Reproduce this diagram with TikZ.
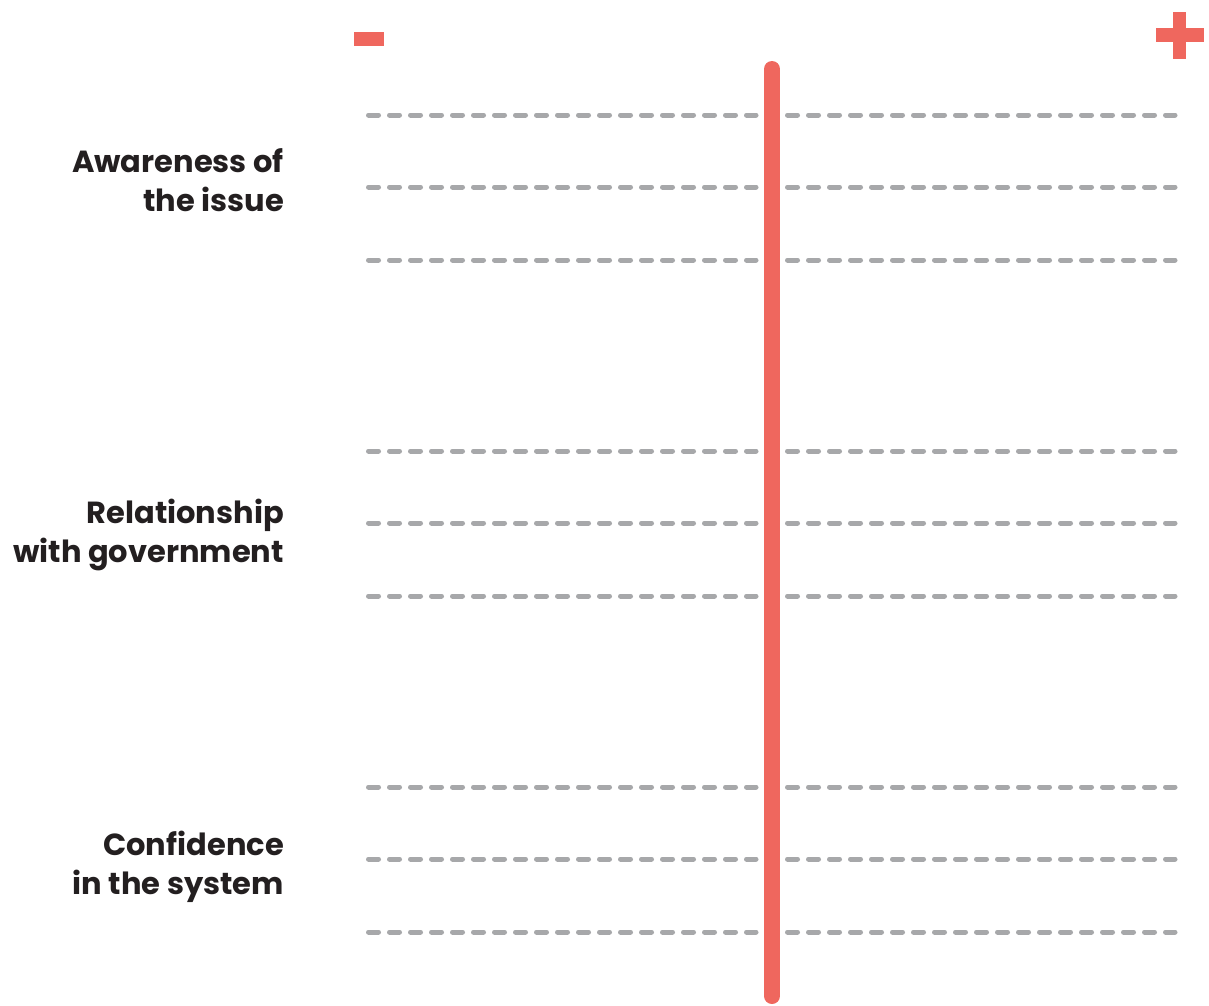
\documentclass[tikz,border=0pt]{standalone}
\usepackage{fontspec}
\setmainfont{Poppins}
\definecolor{accent}{HTML}{EF675E}
\definecolor{dashgray}{HTML}{A7A8AA}
\definecolor{labeltext}{HTML}{231F20}
\begin{document}
\begin{tikzpicture}[x=1pt,y=-1pt,
  guide/.style={draw=dashgray,line width=5pt,line cap=round,dash pattern=on 10pt off 11pt},
  axis/.style={draw=accent,line width=16pt,line cap=round},
  sign/.style={fill=accent},
  label/.style={anchor=base east,align=right,inner sep=0pt,text=labeltext,font=\fontsize{30.5}{39}\selectfont\bfseries}]
\useasboundingbox (0,0) rectangle (1209,1005);
% guide lines
\foreach \yy in {115,187,260,451,523,596,787,859,932}{
  \draw[guide] (368.5,\yy) -- (756,\yy);
  \draw[guide] (787.5,\yy) -- (1175,\yy);
}
% central axis
\coordinate (axtop) at (772,69);
\coordinate (axbot) at (772,996);
\draw[axis] (axtop) -- (axbot);
% minus and plus signs
\fill[sign] (354,32) rectangle (384,46);
\fill[sign] (1173,12) rectangle (1186,59);
\fill[sign] (1156,28) rectangle (1204,42);
% labels
\node[label] (aware) at (284,211) {Awareness of\\the issue};
\node[label] (relat) at (284,562) {Relationship\\with government};
\node[label] (confi) at (284,894) {Confidence\\in the system};
\end{tikzpicture}
\end{document}
